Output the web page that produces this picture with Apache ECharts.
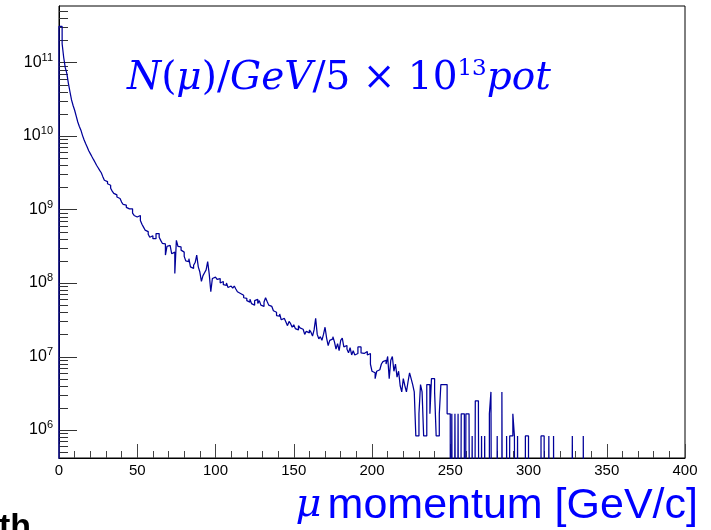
<!DOCTYPE html>
<html><head><meta charset="utf-8">
<script src="https://cdn.jsdelivr.net/npm/echarts/dist/echarts.min.js"></script>
<style>html,body{margin:0;padding:0;background:#fff;overflow:hidden}#c{width:711px;height:530px}</style>
</head><body><div id="c"></div><script>
// ---- data (1 GeV bins, 0..400 GeV) ----
const binWidth = 1;
const xMin = 0, xMax = 400;
const xTickStep = 50;
const yMin = 4.16e5, yMax = 5.87e11;
const yLabelExps = [6, 7, 8, 9, 10, 11];
const yMinorMult = [2, 3, 4, 5, 6, 7, 8, 9];
const counts = [
3.1e11, 3.1e11, 1.8e11, 1.17e11, 8.5e10, 7.1e10, 5.2e10, 4.0e10, 3.1e10, 2.6e10,
2.24e10, 1.86e10, 1.55e10, 1.35e10, 1.2e10, 1.02e10, 8.9e9, 7.9e9, 7.1e9, 6.3e9,
5.75e9, 5.25e9, 4.8e9, 4.4e9, 4.0e9, 3.7e9, 3.4e9, 3.16e9, 2.8e9, 2.5e9,
2.4e9, 2.24e9, 2.14e9, 1.95e9, 1.78e9, 1.66e9, 1.58e9, 1.48e9, 1.41e9, 1.35e9,
1.26e9, 1.17e9, 1.15e9, 1.07e9, 1.02e9, 1.0e9, 1.02e9, 8.9e8, 8.3e8, 7.9e8,
7.6e8, 8.3e8, 7.1e8, 6.3e8, 5.75e8, 5.25e8, 5.0e8, 4.6e8, 4.2e8, 4.4e8,
4.0e8, 4.0e8, 4.7e8, 4.7e8, 4.2e8, 3.8e8, 3.47e8, 3.4e8, 2.4e8, 3.16e8,
3.24e8, 3.3e8, 2.5e8, 2.63e8, 1.35e8, 3.8e8, 3.16e8, 3.1e8, 2.8e8, 2.63e8,
2.3e8, 2.0e8, 1.95e8, 2.14e8, 1.66e8, 1.58e8, 1.74e8, 1.9e8, 2.4e8, 1.66e8,
1.41e8, 1.05e8, 1.26e8, 1.38e8, 1.51e8, 1.95e8, 1.32e8, 7.6e7, 1.15e8, 1.2e8,
1.17e8, 1.12e8, 1.15e8, 1.0e8, 1.05e8, 9.5e7, 9.3e7, 1.0e8, 8.7e7, 9.1e7,
8.9e7, 8.5e7, 9.1e7, 8.3e7, 7.6e7, 7.2e7, 6.9e7, 6.8e7, 6.3e7, 6.2e7,
5.75e7, 5.5e7, 6.0e7, 5.25e7, 5.0e7, 5.75e7, 6.0e7, 5.25e7, 5.75e7, 5.0e7,
4.8e7, 5.5e7, 6.3e7, 5.6e7, 5.0e7, 4.8e7, 4.7e7, 4.2e7, 4.0e7, 3.6e7,
3.55e7, 3.8e7, 3.16e7, 3.3e7, 3.1e7, 2.95e7, 2.63e7, 3.0e7, 2.8e7, 2.5e7,
2.7e7, 2.4e7, 2.3e7, 2.63e7, 2.45e7, 2.35e7, 2.24e7, 2.0e7, 2.2e7, 2.1e7,
2.3e7, 2.14e7, 1.9e7, 2.3e7, 3.3e7, 2.0e7, 1.74e7, 1.86e7, 1.66e7, 2.0e7,
2.5e7, 1.78e7, 1.41e7, 1.66e7, 1.74e7, 1.86e7, 1.58e7, 1.26e7, 1.5e7, 1.2e7,
1.66e7, 1.78e7, 1.35e7, 1.41e7, 1.26e7, 1.12e7, 1.32e7, 1.05e7, 1.2e7, 1.05e7,
1.1e7, 1.35e7, 1.35e7, 1.12e7, 1.1e7, 1.1e7, 1.17e7, 1.05e7, 1.1e7, 7.9e6,
6.3e6, 6.0e6, 5.0e6, 6.3e6, 6.6e6, 6.3e6, 7.9e6, 8.5e6, 8.9e6, 7.9e6,
1.0e7, 5.0e6, 8.9e6, 1.0e7, 6.3e6, 7.9e6, 5.25e6, 6.3e6, 4.0e6, 3.3e6,
5.0e6, 4.0e6, 3.3e6, 4.5e6, 6.0e6, 5.0e6, 4.15e6, 3.3e6, 8.3e5, 8.3e5,
1.66e6, 4.15e6, 3.3e6, 8.3e5, 8.3e5, 4.15e6, 4.15e6, 1.66e6, 5.0e6, 5.0e6,
3.3e6, 8.3e5, 8.3e5, 1.66e6, 4.15e6, 4.15e6, 4.15e6, 4.15e6, 1.66e6, 1.66e6,
0, 1.66e6, 0, 1.66e6, 0, 1.66e6, 0, 1.66e6, 1.66e6, 0,
1.66e6, 1.66e6, 1.66e6, 0, 8.3e5, 0, 2.5e6, 2.5e6, 1.66e6, 0,
8.3e5, 0, 8.3e5, 0, 0, 1.66e6, 3.3e6, 0, 0, 0,
8.3e5, 0, 0, 3.3e6, 0, 0, 8.3e5, 0, 8.3e5, 8.3e5,
1.66e6, 8.3e5, 0, 8.3e5, 0, 0, 0, 0, 8.3e5, 8.3e5,
0, 0, 0, 0, 0, 0, 0, 0, 8.3e5, 8.3e5,
0, 0, 0, 8.3e5, 0, 0, 8.3e5, 0, 0, 0,
0, 0, 0, 0, 0, 0, 0, 0, 8.3e5, 0,
0, 0, 0, 0, 0, 8.3e5, 0, 0, 0, 0,
0, 0, 0, 0, 0, 0, 0, 0, 0, 0,
0, 0, 0, 0, 0, 0, 0, 0, 0, 0,
0, 0, 0, 0, 0, 0, 0, 0, 0, 0,
0, 0, 0, 0, 0, 0, 0, 0, 0, 0,
0, 0, 0, 0, 0, 0, 0, 0, 0, 0,
0, 0, 0, 0, 0, 0, 0, 0, 0, 0
];
const titleText = '{i|N}{r|(}{i|μ}{r|)/}{i|GeV}{r|/5 × 10}{s|13}{i|pot}';
const xTitleText = '{m|μ}{a|momentum [GeV/c]}';

// ---- build step path (empty bins drawn below the frame, clipped) ----
const FLOOR = 1;
const pts = [[xMin, FLOOR]];
counts.forEach((v, i) => pts.push([xMin + i * binWidth, v > 0 ? v : FLOOR]));
pts.push([xMin + counts.length * binWidth, FLOOR]);

// y ticks (log): majors at decades, minors at m*10^k
const yTicks = [];
for (let k = 5; k <= 11; k++) {
  const dec = Math.pow(10, k);
  if (dec >= yMin && dec <= yMax) yTicks.push([xMin, dec, 1]);
  yMinorMult.forEach(m => { const v = m * dec; if (v >= yMin && v <= yMax) yTicks.push([xMin, v, 0]); });
}

const SANS = '"Liberation Sans", Arial, Helvetica, sans-serif';
const SERIF = '"DejaVu Serif", serif';
const chart = echarts.init(document.getElementById('c'), null, {renderer: 'canvas'});
chart.setOption({
  animation: false,
  backgroundColor: '#fff',
  grid: {left: 59, right: 26, top: 6, bottom: 72, show: true, borderColor: '#000', borderWidth: 1, backgroundColor: 'transparent'},
  xAxis: {
    type: 'value', min: xMin, max: xMax, interval: xTickStep,
    axisLine: {show: true, lineStyle: {color: '#000', width: 1}},
    axisTick: {show: true, inside: true, length: 14, lineStyle: {color: '#444'}},
    minorTick: {show: true, splitNumber: 5, length: 7, lineStyle: {color: '#444'}},
    splitLine: {show: false},
    axisLabel: {color: '#000', fontSize: 15, fontFamily: SANS, margin: 5}
  },
  yAxis: {
    type: 'log', logBase: 10, min: yMin, max: yMax,
    axisLine: {show: true, lineStyle: {color: '#000', width: 1}},
    axisTick: {show: false},
    splitLine: {show: false},
    axisLabel: {
      margin: 6, color: '#000',
      formatter: function (v) {
        const e = Math.log10(v), r = Math.round(e);
        if (Math.abs(e - r) > 1e-6 || yLabelExps.indexOf(r) < 0) return '';
        return '{b|10}{s|' + r + '}';
      },
      rich: {
        b: {fontSize: 16, fontFamily: SANS, color: '#000', lineHeight: 20},
        s: {fontSize: 11, fontFamily: SANS, color: '#000', lineHeight: 11, padding: [0, 0, 10, 0]}
      }
    }
  },
  series: [
    {
      type: 'custom', coordinateSystem: 'cartesian2d', silent: true, z: 3,
      data: yTicks,
      renderItem: function (params, api) {
        const p = api.coord([api.value(0), api.value(1)]);
        const len = api.value(2) ? 18 : 9;
        const y = Math.round(p[1]) + 0.5;
        return {type: 'line', shape: {x1: p[0], y1: y, x2: p[0] + len, y2: y}, style: {stroke: '#333', lineWidth: 1}};
      }
    },
    {
      type: 'line', data: pts, step: 'end', showSymbol: false, symbol: 'none', clip: true, z: 4,
      lineStyle: {color: '#000099', width: 1.25}
    }
  ],
  graphic: [
    {type: 'text', x: 127, y: 79, silent: true, style: {
      text: titleText, align: 'left', verticalAlign: 'middle', fill: '#0000ff',
      rich: {
        i: {fontFamily: SERIF, fontStyle: 'italic', fontSize: 39, lineHeight: 50, fill: '#0000ff'},
        r: {fontFamily: SERIF, fontSize: 39, lineHeight: 50, fill: '#0000ff'},
        s: {fontFamily: SERIF, fontSize: 23, lineHeight: 24, padding: [0, 0, 20, 0], fill: '#0000ff'}
      }}},
    {type: 'text', x: 698, y: 506, silent: true, style: {
      text: xTitleText, align: 'right', verticalAlign: 'middle', fill: '#0000ff',
      rich: {
        m: {fontFamily: SERIF, fontStyle: 'italic', fontSize: 40, lineHeight: 50, fill: '#0000ff', padding: [0, 6, 0, 0]},
        a: {fontFamily: SANS, fontSize: 43, lineHeight: 50, fill: '#0000ff'}
      }}},
    {type: 'text', x: -1, y: 511, silent: true, style: {
      text: 'th', fontFamily: SANS, fontWeight: 'bold', fontSize: 34, fill: '#000', verticalAlign: 'top'}}
  ]
});
</script></body></html>
